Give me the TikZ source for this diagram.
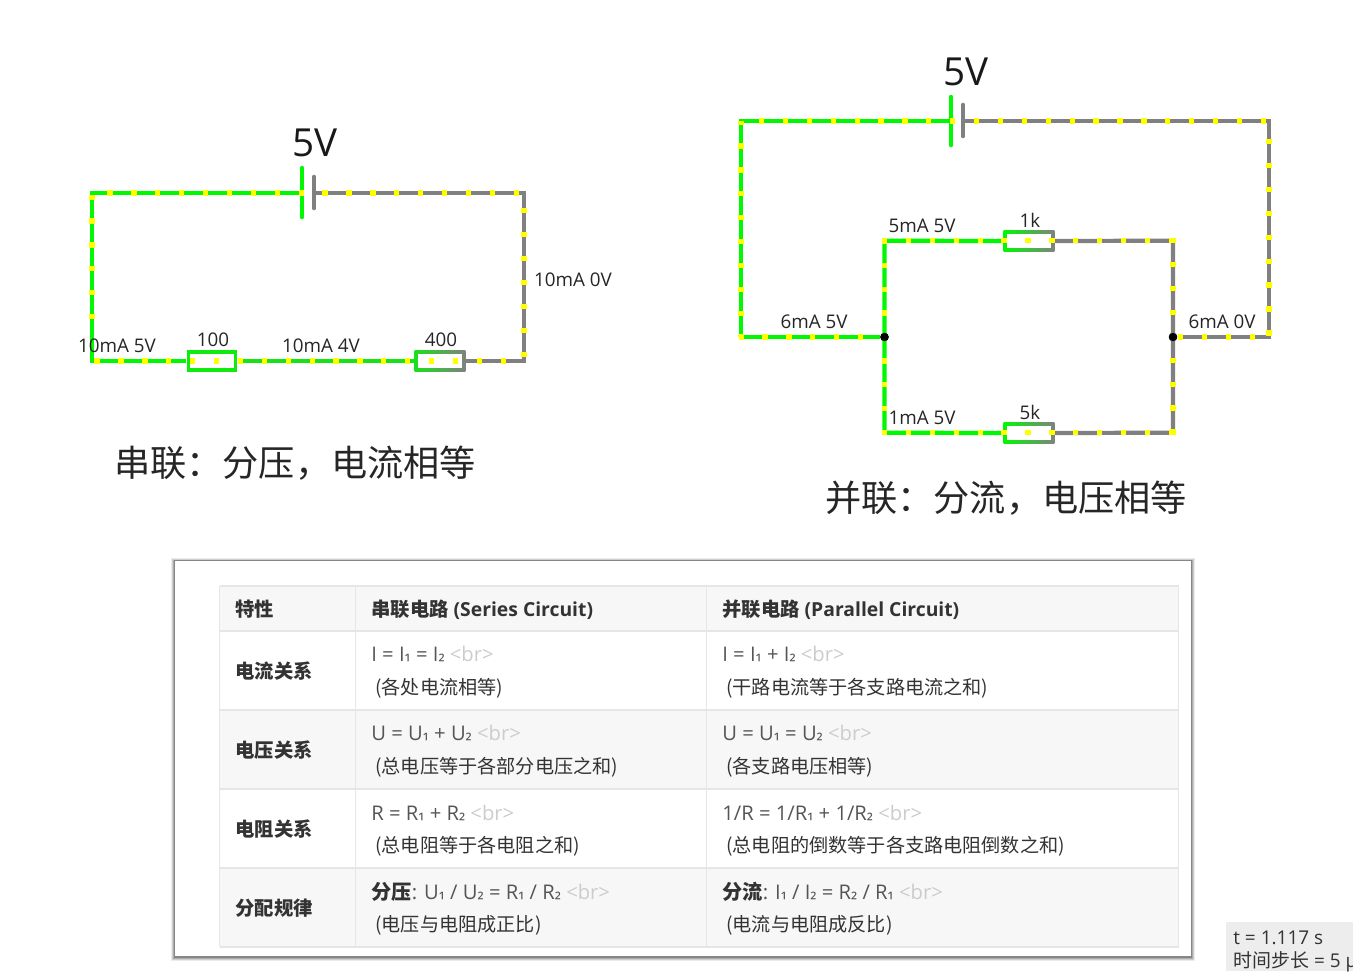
\documentclass[tikz,border=0pt]{standalone}
\usepackage{fontspec}
\setmainfont{Open Sans}
\newfontfamily\cjk{Noto Sans CJK SC}
\newfontfamily\noto{Noto Sans}
\usetikzlibrary{positioning}
\definecolor{livegreen}{RGB}{0,248,0}
\definecolor{midgreen}{RGB}{25,225,25}
\definecolor{deadgrey}{RGB}{128,128,128}
\definecolor{flowyellow}{RGB}{255,255,0}
\definecolor{rulegrey}{RGB}{228,230,234}
\definecolor{stripe}{RGB}{247,247,247}
\definecolor{inktext}{RGB}{51,51,51}
\definecolor{mathtext}{RGB}{85,85,85}
\definecolor{tagtext}{RGB}{204,204,204}
\tikzset{
  wirelive/.style={draw=livegreen,line width=2.4pt},
  wiremid/.style={draw=midgreen,line width=2.4pt},
  wiredead/.style={draw=deadgrey,line width=2.4pt},
  flowdots/.style={draw=flowyellow,line width=3pt,dash pattern=on 3pt off 10.6pt},
  plate/.style={line width=2.6pt,line cap=round},
  resbody/.style={rectangle,minimum width=29pt,minimum height=12.2pt,inner sep=0pt},
  resinner/.style={rectangle,fill=white,minimum width=24.6pt,minimum height=7.6pt,inner sep=0pt},
  junction/.style={circle,fill=black,minimum size=4.8pt,inner sep=0pt},
  voltlabel/.style={font=\fontsize{22}{26}\selectfont,text=black!90},
  vallabel/.style={font=\fontsize{10.7}{13}\selectfont,text=black!85,inner sep=0pt},
  bigcap/.style={font=\cjk\fontsize{20.6}{24}\selectfont,text=black!85,inner sep=0pt},
  tabhead/.style={anchor=base west,inner sep=0pt,text=inktext,font=\bfseries\fontsize{11}{13}\selectfont},
  tabmath/.style={anchor=base west,inner sep=0pt,text=mathtext,font=\fontsize{11.5}{13}\selectfont},
  tabnote/.style={anchor=base west,inner sep=0pt,text=inktext,font=\cjk\fontsize{10.9}{13}\selectfont},
  statustext/.style={anchor=base west,inner sep=0pt,text=black!80,font=\fontsize{10.8}{13}\selectfont},
}
\newcommand{\brtag}{\textcolor{tagtext}{<br>}}
\newcommand{\cjb}[1]{{\cjk\bfseries #1}}
\newcommand{\sbs}[1]{\raisebox{0.9pt}{\noto\fontsize{10}{13}\selectfont #1}}
\begin{document}
\begin{tikzpicture}[x=0.02cm,y=-0.02cm]
\useasboundingbox (0,0) rectangle (1353,971);
\fill [white] (0,0) rectangle (1353,971);

% series circuit
\coordinate (stl) at (92,193);
\coordinate (str) at (524,193);
\coordinate (sbl) at (92,361);
\coordinate (sbr) at (524,361);
\coordinate (splus) at (302,193);
\coordinate (sminus) at (314,193);
\node [resbody,fill=midgreen!60!livegreen] (r100) at (212,361) {};
\node [resbody,left color=midgreen,right color=deadgrey] (r400) at (440,361) {};
\draw [wirelive] (splus) -- (stl) -- (sbl) -- (r100.west);
\draw [wiremid] (r100.east) -- (r400.west);
\draw [wiredead] (sminus) -- (str) -- (sbr) -- (r400.east);
\node [resinner] (r100in) at (r100) {};
\node [resinner] (r400in) at (r400) {};
\draw [plate,draw=livegreen] (302,168) -- (302,217);
\draw [plate,draw=deadgrey] (314,177) -- (314,208);
\draw [flowdots,dash phase=4.82pt,shorten >=3pt] (stl) -- (str);
\draw [flowdots,dash phase=12.75pt,shorten >=20pt] (stl) -- (sbl);
\draw [flowdots,dash phase=4.99pt] (str) -- (sbr);
\draw [flowdots,dash phase=12.19pt] (sbl) -- (sbr);
\node [voltlabel] (s5v) at (315,143) {5V};
\node [vallabel] (s10a) at (117,346) {10mA 5V};
\node [vallabel] (s100) at (213,340) {100};
\node [vallabel] (s10b) at (321,346) {10mA 4V};
\node [vallabel] (s400) at (441,340) {400};
\node [vallabel] (s10c) at (573,280) {10mA 0V};
\node [bigcap] (scap) at (295,463) {串联：分压，电流相等};

% parallel circuit
\coordinate (ptl) at (741,121);
\coordinate (ptr) at (1269,121);
\coordinate (pbl) at (741,337);
\coordinate (pbr) at (1269,337);
\coordinate (pplus) at (951,121);
\coordinate (pminus) at (963,121);
\coordinate (uul) at (884.5,240.7);
\coordinate (uur) at (1173,240.7);
\coordinate (ddl) at (884.5,432.7);
\coordinate (ddr) at (1173,432.7);
\node [resbody,left color=livegreen,right color=deadgrey] (r1k) at (1029,241) {};
\node [resbody,left color=livegreen,right color=deadgrey] (r5k) at (1029,433) {};
\node [junction] (pj1) at (884.5,337) {};
\node [junction] (pj2) at (1173,337) {};
\draw [wirelive] (pplus) -- (ptl) -- (pbl) -- (pj1);
\draw [wirelive] (r1k.west) -- (uul) -- (ddl) -- (r5k.west);
\draw [wiredead] (pminus) -- (ptr) -- (pbr) -- (pj2);
\draw [wiredead] (r1k.east) -- (uur) -- (ddr) -- (r5k.east);
\node [resinner] (r1kin) at (r1k) {};
\node [resinner] (r5kin) at (r5k) {};
\draw [plate,draw=livegreen] (951,97) -- (951,145);
\draw [plate,draw=deadgrey] (963,105) -- (963,136);
\draw [flowdots,dash phase=3.4pt] (ptl) -- (ptr);
\draw [flowdots,dash phase=0.85pt] (ptl) -- (pbl);
\draw [flowdots,dash phase=3.29pt,shorten >=-1pt] (ptr) -- (pbr);
\draw [flowdots,shorten <=-1.42pt] (pbl) -- (pj1);
\draw [flowdots,dash phase=13.32pt] (pj2) -- (pbr);
\draw [flowdots,shorten <=-1.42pt,shorten >=-1.42pt] (uul) -- (uur);
\draw [flowdots,shorten <=-1.42pt,shorten >=-1.42pt] (ddl) -- (ddr);
\draw [flowdots,shorten <=-1.42pt,shorten >=-1.42pt] (ddl) -- (uul);
\draw [flowdots,shorten <=-1.42pt,shorten >=-1.42pt] (uur) -- (ddr);
\node [junction] (pj1top) at (pj1) {};
\node [junction] (pj2top) at (pj2) {};
\node [voltlabel] (p5v) at (966,71.5) {5V};
\node [vallabel] (p5ma) at (922,226) {5mA 5V};
\node [vallabel] (p1k) at (1030,220) {1k};
\node [vallabel] (p6ma) at (814,322) {6mA 5V};
\node [vallabel] (p6mb) at (1222,322) {6mA 0V};
\node [vallabel] (p1ma) at (922,418) {1mA 5V};
\node [vallabel] (p5k) at (1030,412) {5k};
\node [bigcap] (pcap) at (1006,498) {并联：分流，电压相等};

% card with table
\foreach \w/\o in {4.2/0.08,3.2/0.12,2.2/0.16,1.2/0.22} {
  \draw [black,opacity=\o,line width=\w pt] (175,561.5) rectangle (1191,956.8);
}
\fill [white] (175,561) rectangle (1191,956);
\fill [stripe] (220,586) rectangle (1178,631);
\fill [stripe] (220,710) rectangle (1178,789);
\fill [stripe] (220,868) rectangle (1178,947);
\foreach \y in {586,631,710,789,868,947} {
  \draw [rulegrey,line width=0.7pt] (219.5,\y) -- (1178.5,\y);
}
\foreach \x in {219.5,355.5,706.5,1178.5} {
  \draw [rulegrey,line width=0.7pt] (\x,586) -- (\x,947);
}

\node [tabhead] (h1) at (235,616) {\cjk\bfseries 特性};
\node [tabhead] (h2) at (371,616) {\cjb{串联电路} (Series Circuit)};
\node [tabhead] (h3) at (722,616) {\cjb{并联电路} (Parallel Circuit)};

\node [tabhead] (a1) at (235,678.5) {\cjk\bfseries 电流关系};
\node [tabmath] (a2) at (371,661) {I = I\sbs{₁} = I\sbs{₂} \brtag};
\node [tabnote] (a3) at (375,694) {(各处电流相等)};
\node [tabmath] (a4) at (722,661) {I = I\sbs{₁} + I\sbs{₂} \brtag};
\node [tabnote] (a5) at (726,694) {(干路电流等于各支路电流之和)};

\node [tabhead] (b1) at (235,757.5) {\cjk\bfseries 电压关系};
\node [tabmath] (b2) at (371,740) {U = U\sbs{₁} + U\sbs{₂} \brtag};
\node [tabnote] (b3) at (375,773) {(总电压等于各部分电压之和)};
\node [tabmath] (b4) at (722,740) {U = U\sbs{₁} = U\sbs{₂} \brtag};
\node [tabnote] (b5) at (726,773) {(各支路电压相等)};

\node [tabhead] (c1) at (235,836.5) {\cjk\bfseries 电阻关系};
\node [tabmath] (c2) at (371,820) {R = R\sbs{₁} + R\sbs{₂} \brtag};
\node [tabnote] (c3) at (375,852) {(总电阻等于各电阻之和)};
\node [tabmath] (c4) at (722,820) {1/R = 1/R\sbs{₁} + 1/R\sbs{₂} \brtag};
\node [tabnote] (c5) at (726,852) {(总电阻的倒数等于各支路电阻倒数之和)};

\node [tabhead] (d1) at (235,915.5) {\cjk\bfseries 分配规律};
\node [tabmath] (d2) at (371,899) {\textcolor{inktext}{\cjb{分压}}: U\sbs{₁} / U\sbs{₂} = R\sbs{₁} / R\sbs{₂} \brtag};
\node [tabnote] (d3) at (375,931) {(电压与电阻成正比)};
\node [tabmath] (d4) at (722,899) {\textcolor{inktext}{\cjb{分流}}: I\sbs{₁} / I\sbs{₂} = R\sbs{₂} / R\sbs{₁} \brtag};
\node [tabnote] (d5) at (726,931) {(电流与电阻成反比)};

% status box
\fill [black!7] (1226,922) rectangle (1353,971);
\node [statustext] (tnow) at (1233,944) {t = 1.117 s};
\node [statustext] (tstep) at (1233,967) {{\cjk 时间步长} = 5 μ};
\end{tikzpicture}
\end{document}
